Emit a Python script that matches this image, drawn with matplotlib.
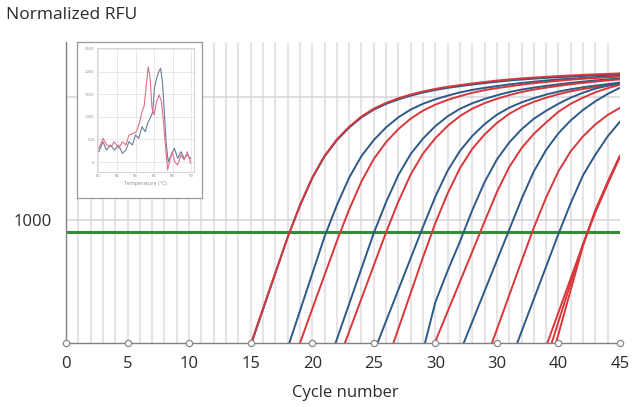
import numpy as np
import matplotlib
matplotlib.use("Agg")
import matplotlib.pyplot as plt

plt.rcParams['font.family'] = ['Open Sans', 'DejaVu Sans']

# ---------------- data ----------------
x_ticks = [0, 5, 10, 15, 20, 25, 30, 35, 40, 45]
x_tick_labels = ['0', '5', '10', '15', '20', '25', '30', '30', '40', '45']
y_label_value = 1000
threshold = 900

# amplification curves: values at consecutive integer cycles, ending at cycle 45
blue_01 = [-317, -23, 271, 565, 859, 1115, 1339, 1516, 1648, 1751, 1834, 1897, 1944, 1980, 2011, 2036,
           2057, 2074, 2088, 2101, 2113, 2124, 2134, 2142, 2149, 2155, 2161, 2166, 2171, 2175, 2179, 2183]
red_02 = [-300, -10, 280, 570, 855, 1120, 1345, 1522, 1655, 1758, 1842, 1905, 1952, 1990, 2020, 2045,
          2066, 2083, 2097, 2110, 2122, 2133, 2143, 2151, 2158, 2164, 2170, 2175, 2180, 2184, 2188, 2192]
blue_03 = [-344, -42, 260, 562, 864, 1120, 1344, 1520, 1650, 1753, 1835, 1898, 1945, 1981, 2011, 2037,
           2058, 2074, 2088, 2102, 2114, 2124, 2134, 2142, 2149, 2155, 2161, 2166, 2171]
red_04 = [-276, -2, 276, 552, 828, 1085, 1313, 1496, 1633, 1739, 1824, 1889, 1938, 1976, 2007, 2034,
          2055, 2072, 2086, 2100, 2112, 2122, 2132, 2141, 2148, 2154, 2160, 2166]
blue_05 = [-258, 30, 318, 606, 894, 1145, 1366, 1537, 1662, 1763, 1843, 1904, 1949, 1984, 2014, 2040,
           2060, 2076, 2090, 2103, 2115, 2125, 2135, 2143, 2150]
red_06 = [-176, 93, 362, 631, 900, 1150, 1370, 1540, 1665, 1765, 1845, 1905, 1950, 1985, 2015, 2040,
          2060, 2076, 2090, 2103, 2115, 2125, 2135, 2143]
blue_07 = [-334, -78, 178, 434, 690, 945, 1190, 1401, 1562, 1683, 1779, 1856, 1913, 1956, 1990, 2020,
           2044, 2063, 2079, 2092, 2105, 2117]
red_08 = [-173, 117, 407, 697, 975, 1216, 1421, 1578, 1695, 1789, 1863, 1919, 1961, 1994, 2023, 2046,
          2065, 2080, 2094, 2107]
blue_09 = [-400, -63, 331, 587, 825, 1080, 1308, 1492, 1630, 1737, 1823, 1888, 1945, 1995, 2035, 2068,
           2092, 2110]
red_10 = [-230, 13, 256, 499, 742, 988, 1227, 1430, 1584, 1700, 1793, 1880, 1945, 1995, 2038, 2072, 2100]
blue_11 = [-325, -76, 173, 422, 671, 920, 1170, 1395, 1570, 1705, 1810, 1895, 1965, 2025, 2075]
red_12 = [-166, 110, 388, 665, 937, 1183, 1396, 1559, 1680, 1777, 1854, 1912]
blue_13 = [-173, 92, 357, 622, 887, 1138, 1364, 1531, 1680, 1800]
red_14 = [-305, -28, 249, 526, 803, 1062, 1293, 1515]
red_15 = [-142, 173, 489, 805, 1075, 1305, 1520]
red_16 = [-288, 72, 432, 792, 1080, 1310, 1525]
last_cycle = 45

# melt curves for the inset
melt_temp_red = [80.06, 80.5, 80.9, 81.4, 81.7, 82.2, 82.6, 82.96, 83.3, 83.8, 84.1, 84.46, 84.7, 84.95,
                 85.16, 85.37, 85.58, 85.78, 85.99, 86.27, 86.55, 86.8, 87.04, 87.25, 87.46, 87.67,
                 87.95, 88.22, 88.54, 88.89, 89.24, 89.58, 89.94]
melt_val_red = [303, 524, 376, 339, 449, 303, 449, 376, 597, 635, 670, 892, 1113, 1261,
                1703, 2108, 1851, 1188, 1040, 1334, 1482, 1334, 819, 303, -177, 7,
                228, 7, -66, 155, 44, 228, -29]
melt_temp_blue = [80.06, 80.5, 80.87, 81.3, 81.74, 82.16, 82.6, 82.96, 83.3, 83.66, 84.0, 84.35, 84.7,
                  85.05, 85.3, 85.58, 85.86, 86.03, 86.27, 86.5, 86.7, 86.9, 87.1, 87.32, 87.53,
                  87.85, 88.19, 88.54, 88.89, 89.24, 89.58, 89.94]
melt_val_blue = [228, 449, 265, 376, 265, 376, 192, 265, 449, 376, 597, 524, 781,
                 670, 856, 967, 1113, 1630, 1851, 1998, 2072, 1777, 1113, 376, 7,
                 155, 303, 81, 228, 81, 155, 81]
inset_x_ticks = [80, 82, 84, 86, 88, 90]
inset_y_ticks = [0, 500, 1000, 1500, 2000, 2500]

BLUE = '#2d5a86'
RED = '#d8373b'
TEXT = '#2a2a2a'

curves = [(blue_01, BLUE), (red_02, RED), (blue_03, BLUE), (red_04, RED), (blue_05, BLUE),
          (red_06, RED), (blue_07, BLUE), (red_08, RED), (blue_09, BLUE), (red_10, RED),
          (blue_11, BLUE), (red_12, RED), (blue_13, BLUE), (red_14, RED), (red_15, RED), (red_16, RED)]

# ---------------- figure ----------------
fig = plt.figure(figsize=(6.44, 4.07), dpi=100)
ax = fig.add_axes([66 / 644, 1 - 343 / 407, 554 / 644, 301 / 407])
ax.set_xlim(0, 45)
ax.set_ylim(0, 2447)

# grid
for c in range(1, 45):
    ax.axvline(c, color='#e6e4e9', lw=1.5, zorder=0)
for v in (1000, 2000):
    ax.axhline(v, color='#d6d3da', lw=1.1, zorder=0.5)

ax.axhline(threshold, color='#358c38', lw=2.2, zorder=1)

for vals, col in curves:
    xs = np.arange(last_cycle - len(vals) + 1, last_cycle + 1)
    ax.plot(xs, vals, color=col, lw=1.4, zorder=2, solid_capstyle='round', solid_joinstyle='round')

for s in ('top', 'right'):
    ax.spines[s].set_visible(False)
for s in ('left', 'bottom'):
    ax.spines[s].set_color('#808080')
    ax.spines[s].set_linewidth(1.0)

ax.set_xticks(x_ticks)
ax.set_xticklabels(x_tick_labels)
ax.set_yticks([y_label_value])
ax.set_yticklabels([str(y_label_value)])
ax.tick_params(axis='both', length=0, labelsize=12, colors=TEXT)
ax.tick_params(axis='x', pad=9)
ax.tick_params(axis='y', pad=10)

ax.plot(x_ticks, [0] * len(x_ticks), 'o', ms=4.5, mfc='white', mec='#888888', mew=0.9,
        clip_on=False, zorder=5)

fig.text(345 / 644, 1 - 393 / 407, 'Cycle number', ha='center', va='center', fontsize=12, color=TEXT)
fig.text(6 / 644, 1 - 15 / 407, 'Normalized RFU', ha='left', va='center', fontsize=12.5, color=TEXT)

# ---------------- inset ----------------
frame = fig.add_axes([77 / 644, 1 - 198 / 407, 125 / 644, 156 / 407])
frame.set_xticks([])
frame.set_yticks([])
frame.set_facecolor('white')
for s in frame.spines.values():
    s.set_color('#9a9a9a')
    s.set_linewidth(0.9)
frame.set_zorder(10)

ins = fig.add_axes([96.5 / 644, 1 - 172 / 407, 97.5 / 644, 124 / 407])
ins.set_zorder(11)
ins.set_xlim(79.8, 90.3)
ins.set_ylim(-221, 2522)
ins.set_xticks(inset_x_ticks)
ins.set_yticks(inset_y_ticks)
ins.tick_params(length=0, labelsize=3, colors='#888888', pad=1.5)
ins.grid(True, color='#e4e4e4', lw=0.6)
for s in ins.spines.values():
    s.set_color('#d0d0d0')
    s.set_linewidth(0.6)
ins.plot(melt_temp_blue, melt_val_blue, color='#6a7c98', lw=0.8)
ins.plot(melt_temp_red, melt_val_red, color='#e0708a', lw=0.8)
ins.set_xlabel('Temperature (°C)', fontsize=3.8, color='#888888', labelpad=2)

fig.savefig('out.png', dpi=100)
